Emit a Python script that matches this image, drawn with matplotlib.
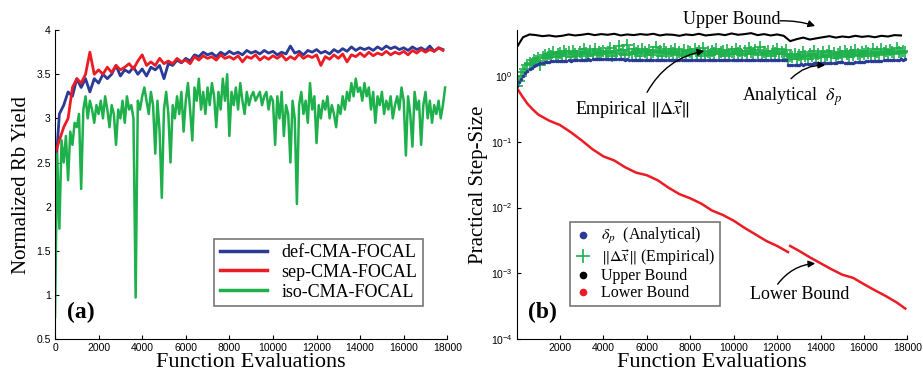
import numpy as np
import matplotlib
matplotlib.use("Agg")
import matplotlib.pyplot as plt
from matplotlib.lines import Line2D
from matplotlib.ticker import FormatStrFormatter, NullLocator

plt.rcParams['mathtext.fontset'] = 'stix'
serif = ['Liberation Serif', 'DejaVu Serif']
sans = ['Liberation Sans', 'DejaVu Sans']

# ---------------- panel (a) data ----------------
x_iso = np.arange(0, 18000, 100)
iso = [0.75, 2.60, 1.75, 2.75, 2.50, 2.80, 2.30, 2.85, 2.70, 2.95,
       2.90, 3.05, 2.20, 3.10, 3.25, 3.00, 3.20, 3.10, 2.95, 3.15,
       3.05, 3.20, 3.00, 3.25, 3.10, 2.90, 3.15, 3.05, 2.70, 3.10,
       3.00, 3.20, 2.95, 3.25, 3.10, 3.15, 3.00, 0.97, 3.20, 3.10,
       3.25, 3.35, 3.20, 3.05, 3.30, 3.15, 2.60, 3.20, 2.85, 2.10,
       3.10, 3.30, 3.05, 2.50, 3.15, 3.00, 3.25, 3.05, 3.30, 2.85,
       3.20, 3.40, 3.10, 2.75, 3.35, 3.20, 3.45, 3.10, 3.30, 3.05,
       3.35, 3.15, 3.40, 3.25, 2.90, 3.30, 3.10, 3.45, 3.20, 3.50,
       2.80, 3.30, 3.15, 3.35, 3.10, 3.40, 3.20, 3.05, 3.30, 3.15,
       3.25, 3.30, 3.20, 3.25, 3.30, 3.15, 3.25, 3.30, 3.10, 3.25,
       3.20, 2.70, 3.25, 3.00, 3.30, 2.80, 3.15, 3.05, 2.50, 3.20,
       3.00, 2.03, 3.15, 3.30, 3.05, 3.20, 2.95, 3.40, 3.10, 3.25,
       2.72, 3.15, 3.00, 3.20, 3.10, 3.25, 3.00, 3.15, 3.05, 2.90,
       3.15, 3.05, 3.25, 3.10, 3.30, 3.20, 3.40, 3.25, 3.45, 3.30,
       3.35, 3.20, 3.40, 3.25, 3.35, 3.10, 3.30, 2.95, 3.25, 3.15,
       3.30, 3.05, 3.20, 3.10, 3.25, 3.00, 3.15, 3.25, 3.10, 3.35,
       3.20, 2.58, 3.25, 3.05, 2.68, 3.30, 3.10, 3.20, 2.70, 3.15,
       3.30, 3.00, 3.20, 2.95, 3.15, 3.05, 3.20, 3.00, 3.15, 3.35]

x_ds = np.arange(0, 18000, 200)
def_cma = [2.30, 3.05, 3.15, 3.30, 3.25, 3.45, 3.35, 3.45, 3.30, 3.45,
           3.40, 3.50, 3.45, 3.50, 3.60, 3.48, 3.55, 3.52, 3.58, 3.50,
           3.56, 3.48, 3.58, 3.55, 3.60, 3.45, 3.62, 3.60, 3.66, 3.63,
           3.68, 3.65, 3.72, 3.70, 3.75, 3.72, 3.74, 3.70, 3.75, 3.72,
           3.76, 3.73, 3.75, 3.72, 3.77, 3.74, 3.76, 3.73, 3.77, 3.74,
           3.76, 3.72, 3.75, 3.73, 3.82, 3.74, 3.76, 3.72, 3.77, 3.75,
           3.78, 3.74, 3.76, 3.73, 3.78, 3.75, 3.79, 3.76, 3.81, 3.77,
           3.80, 3.78, 3.80, 3.77, 3.81, 3.78, 3.82, 3.79, 3.81, 3.78,
           3.80, 3.77, 3.81, 3.78, 3.80, 3.77, 3.82, 3.76, 3.80, 3.78]
sep_cma = [2.60, 2.75, 2.90, 3.00, 3.35, 3.45, 3.40, 3.50, 3.75, 3.50,
           3.55, 3.50, 3.58, 3.52, 3.60, 3.55, 3.58, 3.62, 3.56, 3.65,
           3.72, 3.60, 3.64, 3.60, 3.68, 3.62, 3.65, 3.62, 3.68, 3.64,
           3.66, 3.62, 3.70, 3.66, 3.71, 3.68, 3.70, 3.66, 3.72, 3.68,
           3.70, 3.67, 3.71, 3.64, 3.70, 3.68, 3.72, 3.66, 3.70, 3.67,
           3.71, 3.68, 3.72, 3.66, 3.70, 3.67, 3.73, 3.68, 3.71, 3.69,
           3.72, 3.60, 3.70, 3.67, 3.72, 3.68, 3.73, 3.64, 3.72, 3.70,
           3.74, 3.70, 3.75, 3.71, 3.74, 3.72, 3.76, 3.72, 3.75, 3.73,
           3.76, 3.72, 3.77, 3.74, 3.78, 3.75, 3.78, 3.76, 3.80, 3.77]

# ---------------- panel (b) data ----------------
x_step = np.arange(0, 18000, 100)
analytical = [0.70, 0.80, 0.90, 1.00, 1.10, 1.20, 1.30, 1.35, 1.42, 1.48,
              1.52, 1.56, 1.60, 1.62, 1.64, 1.66, 1.67, 1.68, 1.69, 1.70,
              1.70, 1.71, 1.70, 1.72, 1.73, 1.72, 1.74, 1.75, 1.74, 1.76,
              1.77, 1.76, 1.78, 1.79, 1.78, 1.80, 1.81, 1.80, 1.82, 1.81,
              1.82, 1.83, 1.82, 1.81, 1.83, 1.82, 1.80, 1.81, 1.79, 1.80,
              1.78, 1.79, 1.77, 1.78, 1.76, 1.77, 1.75, 1.76, 1.74, 1.75,
              1.74, 1.75, 1.73, 1.74, 1.75, 1.76, 1.75, 1.77, 1.76, 1.75,
              1.74, 1.73, 1.74, 1.75, 1.74, 1.76, 1.75, 1.77, 1.76, 1.78,
              1.77, 1.76, 1.75, 1.74, 1.75, 1.76, 1.77, 1.76, 1.75, 1.74,
              1.73, 1.74, 1.75, 1.76, 1.75, 1.74, 1.73, 1.74, 1.75, 1.76,
              1.77, 1.76, 1.75, 1.76, 1.77, 1.78, 1.77, 1.76, 1.75, 1.76,
              1.77, 1.76, 1.75, 1.74, 1.75, 1.76, 1.75, 1.74, 1.75, 1.76,
              1.75, 1.74, 1.73, 1.74, 1.75, 1.48, 1.47, 1.46, 1.48, 1.49,
              1.50, 1.51, 1.50, 1.52, 1.53, 1.54, 1.55, 1.56, 1.57, 1.56,
              1.58, 1.59, 1.60, 1.59, 1.58, 1.57, 1.58, 1.60, 1.61, 1.62,
              1.61, 1.60, 1.58, 1.57, 1.58, 1.60, 1.62, 1.63, 1.64, 1.65,
              1.66, 1.67, 1.68, 1.67, 1.69, 1.70, 1.71, 1.72, 1.71, 1.73,
              1.74, 1.75, 1.74, 1.76, 1.77, 1.76, 1.78, 1.79, 1.78, 1.80]
empirical = [0.70, 0.85, 1.00, 1.15, 1.30, 1.45, 1.60, 1.55, 1.75, 1.70,
             1.90, 1.45, 1.95, 2.10, 1.90, 2.20, 2.05, 2.35, 1.95, 2.15,
             2.25, 2.00, 2.40, 2.15, 2.30, 1.95, 2.45, 2.20, 2.05, 2.35,
             2.15, 2.55, 2.25, 2.00, 2.40, 2.20, 2.60, 2.10, 2.35, 2.25,
             2.45, 2.15, 2.30, 2.70, 2.05, 2.40, 2.25, 2.85, 2.20, 2.50,
             2.10, 2.95, 2.30, 2.15, 2.55, 2.25, 2.40, 2.05, 2.60, 2.30,
             2.20, 2.50, 2.10, 2.35, 2.75, 2.25, 2.40, 2.05, 2.55, 2.30,
             2.15, 2.45, 2.25, 2.60, 2.10, 2.35, 2.20, 2.50, 2.05, 2.40,
             2.30, 2.15, 2.55, 2.25, 2.40, 2.05, 2.70, 2.20, 2.35, 2.10,
             2.45, 2.25, 2.60, 2.15, 2.30, 2.40, 2.05, 2.50, 2.20, 2.35,
             2.15, 2.55, 2.25, 2.40, 2.10, 2.45, 2.20, 2.65, 2.30, 2.15,
             2.50, 2.25, 2.80, 2.10, 2.35, 2.20, 2.45, 2.05, 2.40, 2.25,
             2.55, 2.15, 2.35, 2.20, 2.50, 1.85, 2.05, 1.95, 2.20, 1.80,
             2.10, 1.95, 2.30, 2.00, 1.85, 2.15, 2.05, 2.40, 1.90, 2.20,
             2.00, 2.35, 1.95, 2.10, 2.45, 2.05, 2.25, 1.90, 2.15, 2.30,
             2.05, 2.40, 2.15, 1.95, 2.30, 2.10, 2.50, 2.20, 2.05, 2.35,
             2.15, 2.45, 2.25, 2.05, 2.55, 2.20, 2.35, 2.10, 2.60, 2.25,
             2.40, 2.15, 2.50, 2.30, 2.20, 2.65, 2.35, 2.25, 2.45, 2.30]

x_upper = np.arange(0, 18000, 300)
upper = [2.70, 3.90, 4.30, 4.20, 4.05, 4.15, 4.00, 4.10, 4.30, 4.15,
         4.25, 4.40, 4.20, 4.35, 4.25, 4.40, 4.15, 4.30, 4.20, 4.35,
         4.25, 4.40, 4.15, 4.30, 4.25, 4.10, 4.30, 4.20, 4.40, 4.15,
         4.25, 4.35, 4.20, 4.45, 4.25, 4.35, 4.50, 4.20, 4.35, 4.15,
         4.30, 4.10, 3.40, 3.65, 3.85, 3.60, 3.75, 3.90, 4.05, 3.85,
         4.00, 3.90, 4.10, 3.95, 4.05, 3.90, 4.10, 4.00, 4.20, 4.15]

x_lower = [0, 250, 500, 750, 1000, 1500, 2000, 2500, 3000, 3500, 4000,
           4500, 5000, 5500, 6000, 6500, 7000, 7500, 8000, 8500, 9000,
           9500, 10000, 10500, 11000, 11500, 12000, 12500, 12550, 12600,
           13000, 13500, 14000, 14500, 15000, 15500, 16000, 16500, 17000,
           17500, 17900]
lower = [0.67, 0.50, 0.38, 0.31, 0.26, 0.21, 0.18, 0.14, 0.105, 0.077,
         0.060, 0.052, 0.041, 0.034, 0.031, 0.026, 0.020, 0.016, 0.0138,
         0.0115, 0.0090, 0.0077, 0.0063, 0.0049, 0.0039, 0.0031, 0.0026,
         0.0021, np.nan, 0.0026, 0.0022, 0.00175, 0.00142, 0.00115,
         0.00095, 0.00085, 0.00068, 0.00055, 0.00045, 0.00036, 0.00029]

c_blue = '#2B3A97'
c_red = '#EC1C24'
c_green = '#1DB04B'

fig = plt.figure(figsize=(9.23, 3.73), dpi=100)
ax1 = fig.add_axes([0.0596, 0.0912, 0.425, 0.828])
ax2 = fig.add_axes([0.5596, 0.0912, 0.4236, 0.828])

# ---------- (a) ----------
ax1.plot(x_ds, def_cma, color=c_blue, lw=2.0, label='def-CMA-FOCAL')
ax1.plot(x_ds, sep_cma, color=c_red, lw=2.0, label='sep-CMA-FOCAL')
ax1.plot(x_iso, iso, color=c_green, lw=1.8, label='iso-CMA-FOCAL')
ax1.set_xlim(0, 18000)
ax1.set_ylim(0.5, 4)
ax1.set_xticks(np.arange(0, 18001, 2000))
ax1.set_yticks(np.arange(0.5, 4.01, 0.5))
ax1.yaxis.set_major_formatter(FormatStrFormatter('%g'))
ax1.set_xlabel('Function Evaluations', fontsize=16, family=serif, labelpad=0)
ax1.set_ylabel('Normalized Rb Yield', fontsize=15, family=serif, labelpad=4)
leg1 = ax1.legend(loc='lower right', bbox_to_anchor=(0.937, 0.107),
                  prop={'family': serif, 'size': 13}, fancybox=False,
                  edgecolor='#555555', handlelength=2.6, borderpad=0.3,
                  labelspacing=0.15, handletextpad=0.8, borderaxespad=0)
leg1.get_frame().set_linewidth(1.2)
for line in leg1.get_lines():
    line.set_linewidth(2.5)
ax1.text(0.03, 0.087, '(a)', transform=ax1.transAxes, fontsize=17,
         fontweight='bold', family=serif, va='center')

# ---------- (b) ----------
ax2.semilogy(x_upper, upper, color='k', lw=1.5)
ax2.semilogy(x_lower, lower, color=c_red, lw=1.8)
ax2.semilogy(x_step, empirical, '+', color=c_green, ms=8, mew=1.2)
ax2.semilogy(x_step, analytical, '.', color=c_blue, ms=3)
ax2.set_xlim(0, 18000)
ax2.set_ylim(1e-4, 5)
ax2.set_xticks(np.arange(2000, 18001, 2000))
ax2.yaxis.set_minor_locator(NullLocator())
ax2.set_xlabel('Function Evaluations', fontsize=16, family=serif, labelpad=0)
ax2.set_ylabel('Practical Step-Size', fontsize=15, family=serif, labelpad=2)

handles = [Line2D([], [], ls='none', marker='.', ms=9, color=c_blue),
           Line2D([], [], ls='none', marker='+', ms=10, mew=1.2, color=c_green),
           Line2D([], [], ls='none', marker='.', ms=9, color='k'),
           Line2D([], [], ls='none', marker='.', ms=9, color=c_red)]
labels = [r'$\delta_p$  (Analytical)', r'$\|\Delta\vec{x}\|$ (Empirical)',
          'Upper Bound', 'Lower Bound']
leg2 = ax2.legend(handles, labels, loc='lower left', bbox_to_anchor=(0.138, 0.107),
                  prop={'family': serif, 'size': 11.5}, fancybox=False,
                  edgecolor='#555555', handlelength=1.0, borderpad=0.3,
                  labelspacing=0.05, handletextpad=0.6, borderaxespad=0)
leg2.get_frame().set_linewidth(1.2)
ax2.text(0.03, 0.087, '(b)', transform=ax2.transAxes, fontsize=17,
         fontweight='bold', family=serif, va='center')

arrow = dict(arrowstyle='-|>', color='k', lw=1.0, mutation_scale=10)
ax2.annotate('', xy=(13870, 5.6), xytext=(12000, 6.9), annotation_clip=False,
             arrowprops=dict(arrow, connectionstyle='arc3,rad=-0.1'))
ax2.text(9900, 7.3, 'Upper Bound', fontsize=13, family=serif, ha='center',
         va='center', clip_on=False)
ax2.annotate('', xy=(8770, 2.45), xytext=(5950, 0.52),
             arrowprops=dict(arrow, connectionstyle='arc3,rad=-0.25'))
ax2.text(5350, 0.30, r'Empirical $\|\Delta\vec{x}\|$', fontsize=13,
         family=serif, ha='center', va='center')
ax2.annotate('', xy=(14340, 1.45), xytext=(12550, 0.85),
             arrowprops=dict(arrow, connectionstyle='arc3,rad=-0.25'))
ax2.text(12700, 0.48, r'Analytical  $\delta_p$', fontsize=13, family=serif,
         ha='center', va='center')
ax2.annotate('', xy=(13880, 1.42e-3), xytext=(11950, 6.3e-4),
             arrowprops=dict(arrow, connectionstyle='arc3,rad=-0.25'))
ax2.text(13050, 4.8e-4, 'Lower Bound', fontsize=13, family=serif,
         ha='center', va='center')

for ax in (ax1, ax2):
    ax.spines['top'].set_visible(False)
    ax.spines['right'].set_visible(False)
    ax.tick_params(direction='in', length=3, labelsize=7.5, pad=3)
    for lab in ax.get_xticklabels() + ax.get_yticklabels():
        lab.set_family(sans)

fig.savefig('out.png', dpi=100)
